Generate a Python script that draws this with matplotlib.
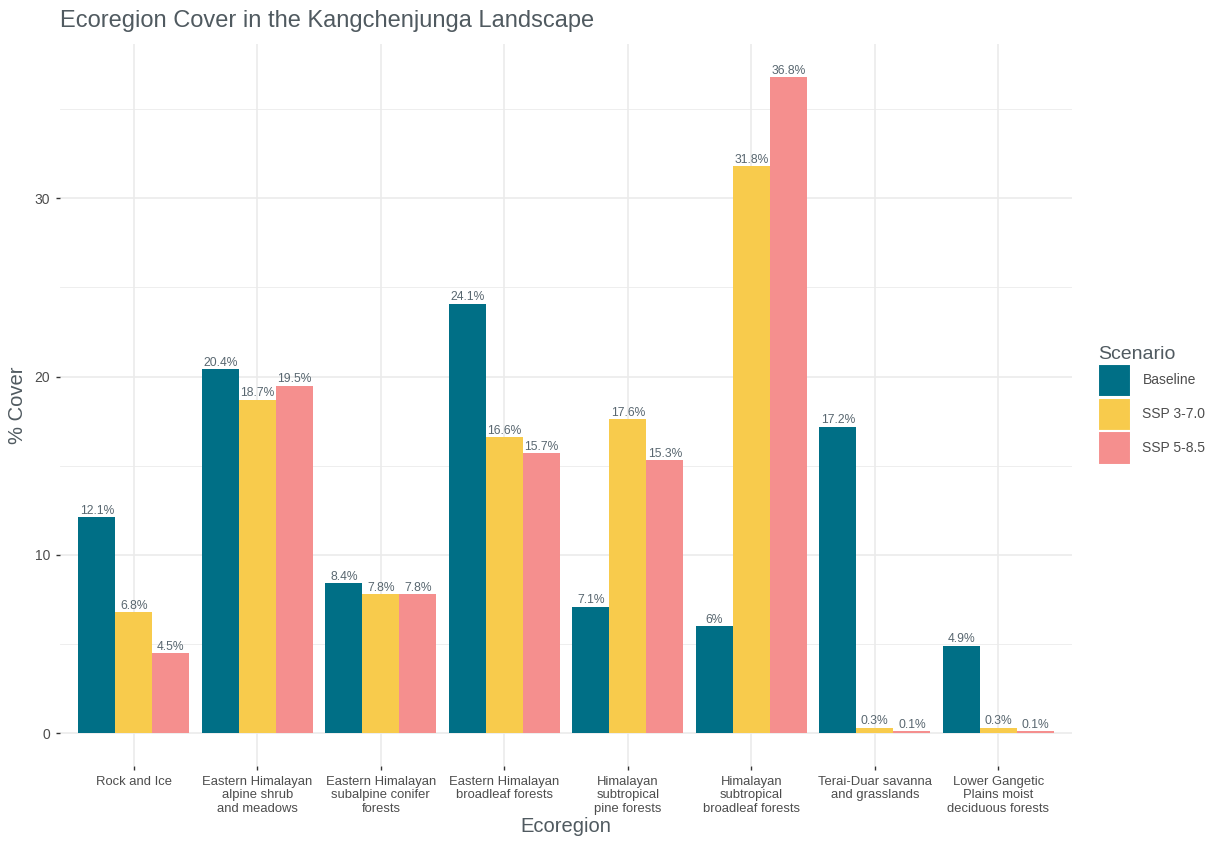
import numpy as np
import matplotlib
matplotlib.use("Agg")
from matplotlib import pyplot as plt
from matplotlib.patches import Patch

plt.rcParams['font.family'] = ['Liberation Sans', 'DejaVu Sans']

# datos
ecoregions = ["Rock and Ice",
              "Eastern Himalayan\nalpine shrub\nand meadows",
              "Eastern Himalayan\nsubalpine conifer\nforests",
              "Eastern Himalayan\nbroadleaf forests",
              "Himalayan\nsubtropical\npine forests",
              "Himalayan\nsubtropical\nbroadleaf forests",
              "Terai-Duar savanna\nand grasslands",
              "Lower Gangetic\nPlains moist\ndeciduous forests"]
scenarios = ["Baseline", "SSP 3-7.0", "SSP 5-8.5"]
baseline = [12.1, 20.4, 8.4, 24.1, 7.1, 6.0, 17.2, 4.9]
ssp370 = [6.8, 18.7, 7.8, 16.6, 17.6, 31.8, 0.3, 0.3]
ssp585 = [4.5, 19.5, 7.8, 15.7, 15.3, 36.8, 0.1, 0.1]
colors = ["#006F86", "#F8CB4C", "#F58F8E"]

series = [baseline, ssp370, ssp585]

fig = plt.figure(figsize=(12.2, 8.46), dpi=100)
ax = fig.add_axes([0.049, 0.0946, 0.830, 0.853])

x = np.arange(1, len(ecoregions) + 1)
w = 0.3
for i, vals in enumerate(series):
    pos = x + (i - 1) * w
    ax.bar(pos, vals, width=w, color=colors[i], zorder=2)
    for p, v in zip(pos, vals):
        ax.text(p, v + 0.02, f"{v:g}%", ha='center', va='bottom',
                fontsize=8.7, color='#596770', zorder=3)

ymax = max(max(s) for s in series)
ax.set_xlim(0.4, len(ecoregions) + 0.6)
ax.set_ylim(-ymax * 0.05, ymax * 1.05)

# cuadricula estilo ggplot minimal
for yv in [5, 15, 25, 35]:
    ax.axhline(yv, color='#EBEBEB', lw=0.6, zorder=0)
for yv in [0, 10, 20, 30]:
    ax.axhline(yv, color='#EBEBEB', lw=1.2, zorder=0)
for xv in x:
    ax.axvline(xv, color='#EBEBEB', lw=1.2, zorder=0)

ax.set_xticks(x)
ax.set_xticklabels(ecoregions, fontsize=9.4, color='#4D4D4D')
ax.set_yticks([0, 10, 20, 30])
ax.set_yticklabels(["0", "10", "20", "30"], fontsize=10, color='#4D4D4D')
ax.tick_params(axis='both', length=3, width=1, color='#333333', pad=4)

for s in ax.spines.values():
    s.set_visible(False)

ax.set_xlabel("Ecoregion", fontsize=14.5, color='#505A60', labelpad=1)
ax.set_ylabel("% Cover", fontsize=14.5, color='#505A60', labelpad=5)
fig.text(0.049, 0.975, "Ecoregion Cover in the Kangchenjunga Landscape",
         fontsize=17, color='#505A60', ha='left', va='center')

handles = [Patch(facecolor=c, edgecolor='white', linewidth=1.5, label=l)
           for c, l in zip(colors, scenarios)]
leg = fig.legend(handles=handles, title="Scenario", loc='upper left',
                 bbox_to_anchor=(0.900, 0.591), frameon=False, fontsize=10,
                 title_fontsize=14, handlelength=2.4, handleheight=3.3,
                 handletextpad=0.8, labelspacing=0.05, borderaxespad=0,
                 borderpad=0)
leg._legend_box.align = "left"
leg.get_title().set_color('#505A60')
for t in leg.get_texts():
    t.set_color('#4D4D4D')

fig.savefig("out.png", dpi=100, facecolor='white')
